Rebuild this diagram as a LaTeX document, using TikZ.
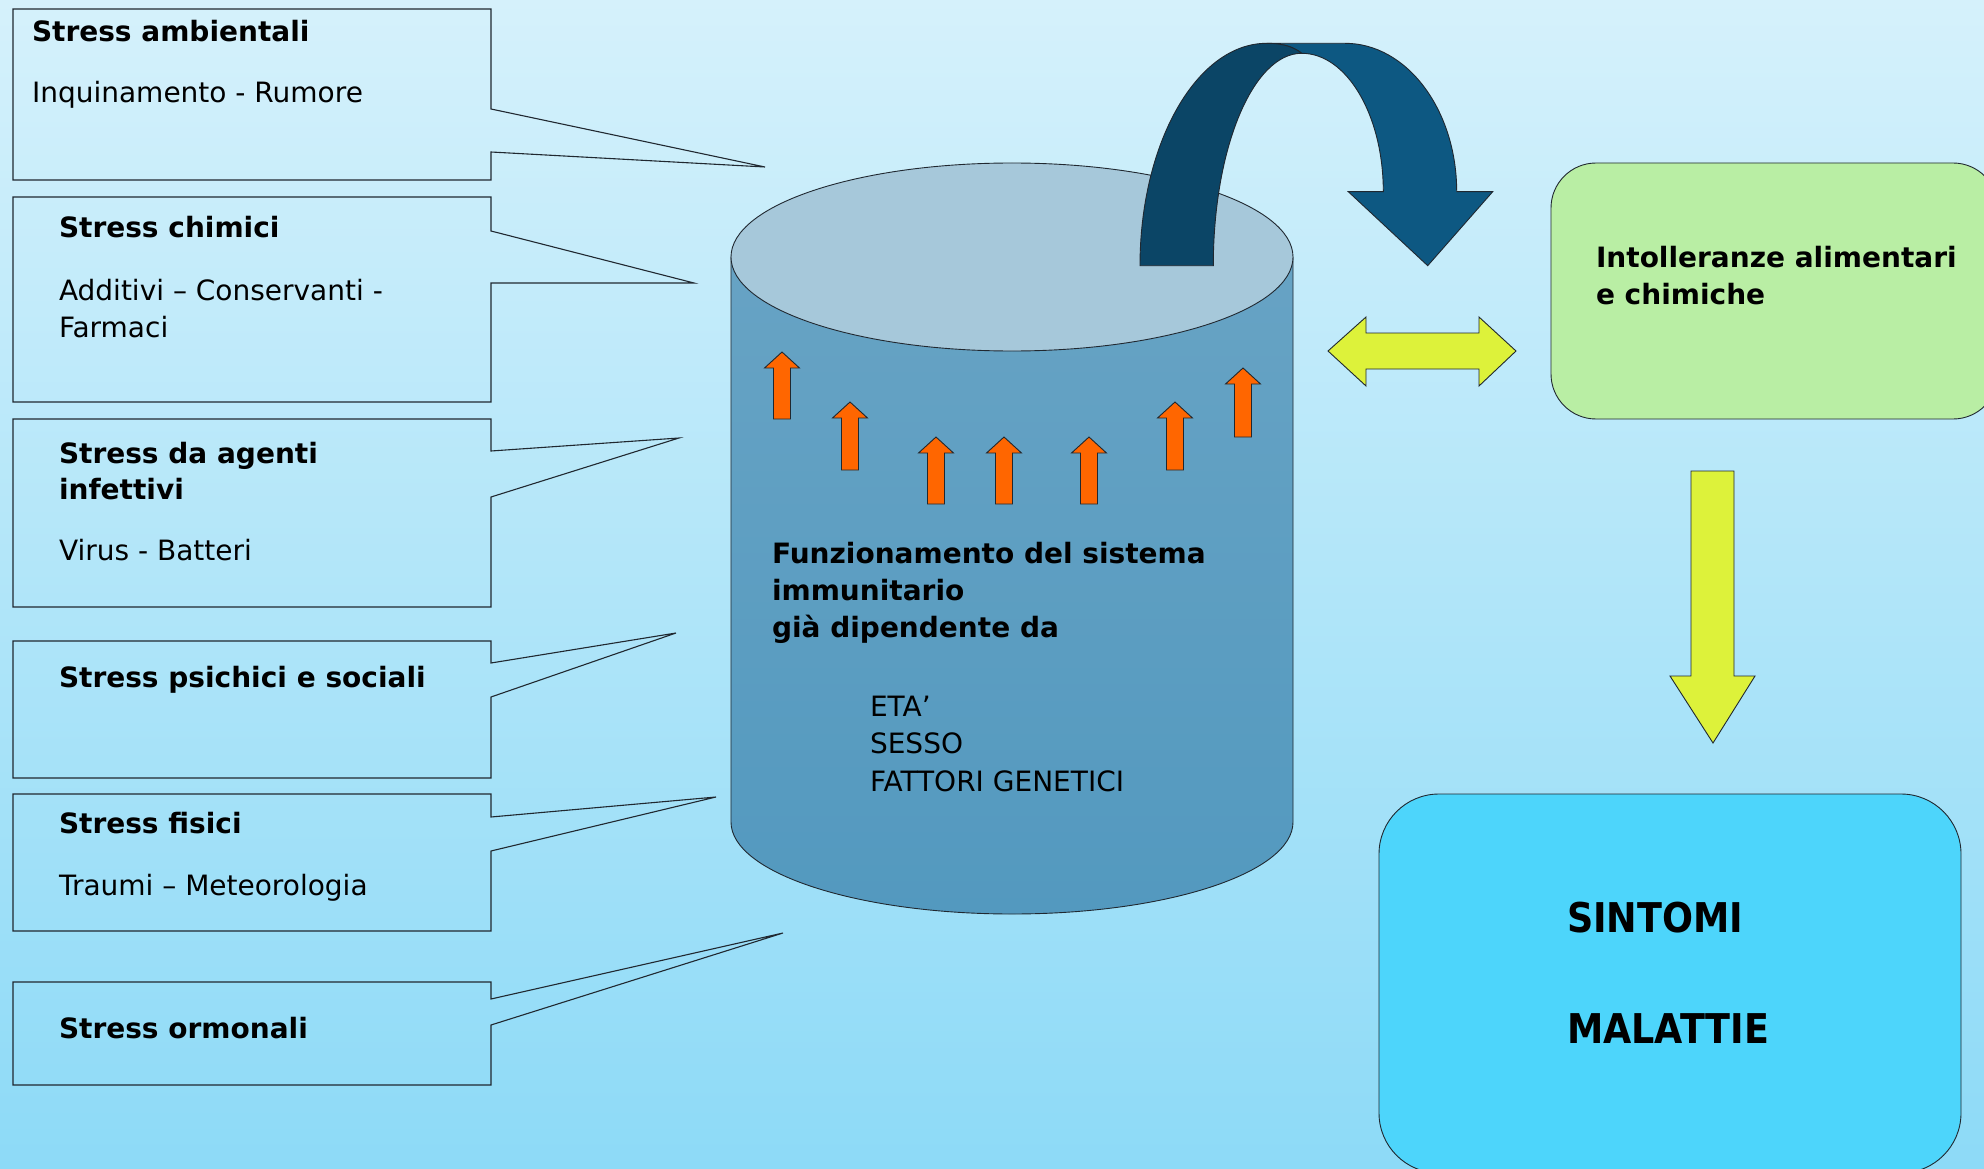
\documentclass[tikz,border=0pt]{standalone}
\usepackage{fontspec}
\setmainfont{DejaVu Sans}
\newfontfamily\bigfont[FakeStretch=0.89]{DejaVu Sans}
\definecolor{bgtop}{HTML}{D5F1FB}
\definecolor{bgbot}{HTML}{8DDAF7}
\definecolor{cyltop}{HTML}{A6C8DA}
\definecolor{cylbodyA}{HTML}{67A3C4}
\definecolor{cylbodyB}{HTML}{5399BF}
\definecolor{arrdark}{HTML}{0B4566}
\definecolor{arrmid}{HTML}{0D5882}
\definecolor{orangeup}{HTML}{FF6600}
\definecolor{yellowg}{HTML}{DDF23A}
\definecolor{greenbox}{HTML}{B9EEA4}
\definecolor{bluebox}{HTML}{4DD5FB}
\definecolor{edge}{HTML}{202830}
\tikzset{
  callout/.style={draw=edge, line width=1.1pt, line join=miter},
  shapeline/.style={draw=edge, line width=0.9pt, line join=miter},
  txt/.style={anchor=base west, inner sep=0pt, outer sep=0pt, font=\fontsize{28}{37}\selectfont},
  btxt/.style={txt, font=\fontsize{28}{37}\selectfont\bfseries},
  bigtxt/.style={anchor=base west, inner sep=0pt, outer sep=0pt, font=\bigfont\fontsize{41}{50}\selectfont\bfseries},
}
\begin{document}
\begin{tikzpicture}[x=1pt,y=-1pt]
\useasboundingbox (0,0) rectangle (1984,1169);
\clip (0,0) rectangle (1984,1169);
\shade[top color=bgtop, bottom color=bgbot] (0,0) rectangle (1984,1169);

% callout boxes
\draw[callout] (13,9) -- (491,9) -- (491,109) -- (765,167) -- (491,152) -- (491,180) -- (13,180) -- cycle;
\draw[callout] (13,197) -- (491,197) -- (491,231) -- (694,283) -- (491,283) -- (491,402) -- (13,402) -- cycle;
\draw[callout] (13,419) -- (491,419) -- (491,451) -- (679,438) -- (491,497) -- (491,607) -- (13,607) -- cycle;
\draw[callout] (13,641) -- (491,641) -- (491,663) -- (676,633) -- (491,697) -- (491,778) -- (13,778) -- cycle;
\draw[callout] (13,794) -- (491,794) -- (491,817) -- (716,797) -- (491,851) -- (491,931) -- (13,931) -- cycle;
\draw[callout] (13,982) -- (491,982) -- (491,999) -- (783,933) -- (491,1025) -- (491,1085) -- (13,1085) -- cycle;

\node[btxt] (t1a) at (32,42) {Stress ambientali};
\node[txt]  (t1b) at (32,103) {Inquinamento - Rumore};
\node[btxt] (t2a) at (59,238) {Stress chimici};
\node[txt]  (t2b) at (59,300) {Additivi – Conservanti -};
\node[txt]  (t2c) at (59,337) {Farmaci};
\node[btxt] (t3a) at (59,463) {Stress da agenti};
\node[btxt] (t3b) at (59,499) {infettivi};
\node[txt]  (t3c) at (59,560) {Virus - Batteri};
\node[btxt] (t4a) at (59,687) {Stress psichici e sociali};
\node[btxt] (t5a) at (59,833) {Stress fisici};
\node[txt]  (t5b) at (59,895) {Traumi – Meteorologia};
\node[btxt] (t6a) at (59,1038) {Stress ormonali};

% cylinder
\shade[top color=cylbodyA, bottom color=cylbodyB, draw=edge, line width=0.9pt]
  (731,257) -- (731,822)
  .. controls (731,872.8) and (856.8,914) .. (1012,914)
  .. controls (1167.2,914) and (1293,872.8) .. (1293,822)
  -- (1293,257) -- cycle;
\draw[shapeline, fill=cyltop] (1012,257) ellipse [x radius=281pt, y radius=94pt];

% orange arrows
\foreach \cx/\tp/\bt in {782/352/419, 850/402/470, 936/437/504, 1004/437/504, 1089/437/504, 1175/402/470, 1243/368/437}{
  \draw[shapeline, fill=orangeup]
    ({\cx-8.5},\bt) -- ({\cx-8.5},{\tp+16}) -- ({\cx-17.5},{\tp+16}) -- (\cx,\tp)
    -- ({\cx+17.5},{\tp+16}) -- ({\cx+8.5},{\tp+16}) -- ({\cx+8.5},\bt) -- cycle;
}

\node[btxt] (c1) at (772,563) {Funzionamento del sistema};
\node[btxt] (c2) at (772,600) {immunitario};
\node[btxt] (c3) at (772,637) {già dipendente da};
\node[txt]  (c4) at (870,716) {ETA’};
\node[txt]  (c5) at (870,753) {SESSO};
\node[txt]  (c6) at (870,791) {FATTORI GENETICI};

% curved arrow
\draw[shapeline, fill=arrmid]
  (1266.7,43.3) -- (1345,43.3)
  .. controls (1406.7,43.3) and (1456.7,109.7) .. (1456.7,191.7)
  -- (1492.7,191.7) -- (1427.7,265.7) -- (1348.3,191.7) -- (1383.3,191.7)
  .. controls (1383.3,115.3) and (1346.8,53.3) .. (1301.7,53.3)
  .. controls (1295,48) and (1285,43.3) .. (1266.7,43.3) -- cycle;
\draw[shapeline, fill=arrdark]
  (1140,265.7)
  .. controls (1140,143.1) and (1196.7,43.3) .. (1266.7,43.3)
  .. controls (1285,43.3) and (1295,48) .. (1301.7,53.3)
  .. controls (1252.9,53.3) and (1213.3,148.4) .. (1213.3,265.7)
  -- cycle;

% double arrow
\draw[shapeline, fill=yellowg]
  (1328,351) -- (1366,317) -- (1366,333) -- (1479,333) -- (1479,317) -- (1516,351)
  -- (1479,386) -- (1479,369) -- (1366,369) -- (1366,386) -- cycle;

% green box
\draw[shapeline, fill=greenbox, rounded corners=45pt] (1551,163) rectangle (1998,419);
\node[btxt] (g1) at (1596,268) {Intolleranze alimentari};
\node[btxt] (g2) at (1596,304) {e chimiche};

% down arrow
\draw[shapeline, fill=yellowg]
  (1691,471) -- (1734,471) -- (1734,676) -- (1755,676) -- (1713,743) -- (1670,676) -- (1691,676) -- cycle;

% blue box
\draw[shapeline, fill=bluebox, rounded corners=60pt] (1379,794) rectangle (1961,1173);
\node[bigtxt] (s1) at (1567,932) {SINTOMI};
\node[bigtxt] (s2) at (1567,1043) {MALATTIE};
\end{tikzpicture}
\end{document}
